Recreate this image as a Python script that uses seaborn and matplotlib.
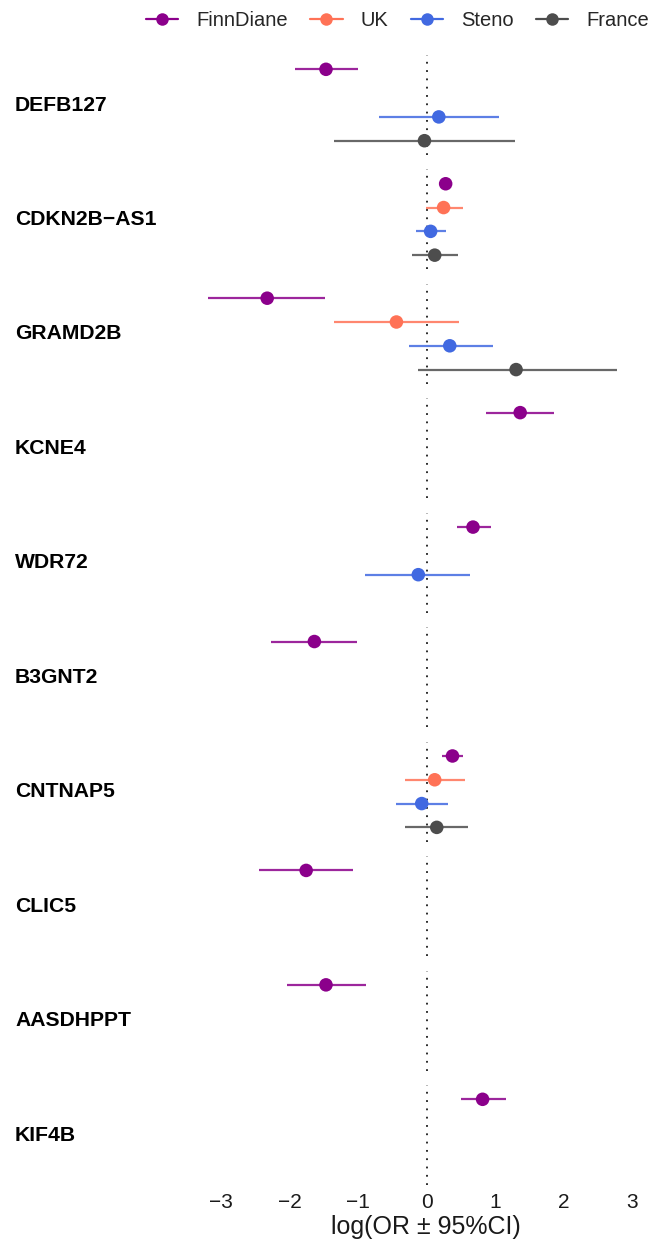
import numpy as np
import pandas as pd
import matplotlib
matplotlib.use("Agg")
import matplotlib.pyplot as plt
import matplotlib.transforms as mtransforms
from matplotlib.lines import Line2D
import seaborn as sns

genes = ["DEFB127", "CDKN2B\u2212AS1", "GRAMD2B", "KCNE4", "WDR72",
         "B3GNT2", "CNTNAP5", "CLIC5", "AASDHPPT", "KIF4B"]
cohorts = ["FinnDiane", "UK", "Steno", "France"]
colors = ["#8B008B", "#FF7256", "#4169E1", "#4D4D4D"]

nan = np.nan
finn_est = [-1.47, 0.28, -2.33, 1.37, 0.68, -1.64, 0.38, -1.76, -1.47, 0.82]
finn_lo = [-1.92, 0.24, -3.19, 0.87, 0.44, -2.28, 0.23, -2.45, -2.04, 0.50]
finn_hi = [-1.00, 0.33, -1.48, 1.86, 0.94, -1.01, 0.53, -1.07, -0.88, 1.16]

uk_est = [nan, 0.25, -0.44, nan, nan, nan, 0.12, nan, nan, nan]
uk_lo = [nan, -0.01, -1.35, nan, nan, nan, -0.32, nan, nan, nan]
uk_hi = [nan, 0.53, 0.48, nan, nan, nan, 0.56, nan, nan, nan]

steno_est = [0.18, 0.06, 0.34, nan, -0.12, nan, -0.07, nan, nan, nan]
steno_lo = [-0.70, -0.16, -0.26, nan, -0.90, nan, -0.44, nan, nan, nan]
steno_hi = [1.06, 0.28, 0.97, nan, 0.63, nan, 0.31, nan, nan, nan]

france_est = [-0.03, 0.12, 1.31, nan, nan, nan, 0.15, nan, nan, nan]
france_lo = [-1.35, -0.21, -0.12, nan, nan, nan, -0.31, nan, nan, nan]
france_hi = [1.29, 0.46, 2.78, nan, nan, nan, 0.60, nan, nan, nan]

ests = [finn_est, uk_est, steno_est, france_est]
los = [finn_lo, uk_lo, steno_lo, france_lo]
his = [finn_hi, uk_hi, steno_hi, france_hi]

rows = []
for c, e, l, h in zip(cohorts, ests, los, his):
    for g, ev, lv, hv in zip(genes, e, l, h):
        rows.append({"gene": g, "cohort": c, "est": ev, "lo": lv, "hi": hv})
df = pd.DataFrame(rows).dropna()
df["slot"] = df["cohort"].map({c: i for i, c in enumerate(cohorts)})
pal = dict(zip(cohorts, colors))

sns.set_style("white")
plt.rcParams["font.family"] = ["Liberation Sans", "DejaVu Sans"]

fig, axes = plt.subplots(len(genes), 1, figsize=(6.68, 12.48), dpi=100, sharex=True)
fig.subplots_adjust(left=0.2814, right=0.9536, top=0.9559, bottom=0.0505, hspace=0.145)

lo_all, hi_all = df["lo"].min(), df["hi"].max()
pad = (hi_all - lo_all) * 0.05

for ax, g in zip(axes, genes):
    sub = df[df["gene"] == g]
    ax.axvline(0, color="#1a1a1a", lw=1.3, ls=(0, (1, 3.6)), zorder=1)
    for _, r in sub.iterrows():
        ax.hlines(r["slot"], r["lo"], r["hi"], color=pal[r["cohort"]], lw=1.6, alpha=0.85, zorder=2)
    sns.scatterplot(data=sub, x="est", y="slot", hue="cohort", palette=pal, s=95,
                    edgecolor="none", legend=False, ax=ax, zorder=3)
    ax.set_ylim(3.6, -0.6)
    ax.set_xlim(lo_all - pad, hi_all + pad)
    ax.set_yticks([])
    ax.set_ylabel("")
    ax.set_xlabel("")
    sns.despine(ax=ax, left=True, bottom=True)
    trans = mtransforms.blended_transform_factory(fig.transFigure, ax.transAxes)
    ax.text(15 / 668, 0.5, g, transform=trans, ha="left", va="center",
            fontsize=15.2, fontweight="bold", color="black")
    ax.tick_params(axis="x", length=0)

axes[-1].set_xticks([-3, -2, -1, 0, 1, 2, 3])
axes[-1].set_xticklabels(["\u22123", "\u22122", "\u22121", "0", "1", "2", "3"])
axes[-1].tick_params(axis="x", labelsize=15, pad=6, colors="#1a1a1a", labelcolor="#1a1a1a")
axes[-1].set_xlabel("log(OR \u00b1 95%CI)", fontsize=18, color="#1a1a1a")
axes[-1].xaxis.set_label_coords(0.529, -0.30)

handles = [Line2D([0], [0], color=c, lw=1.6, marker="o", markersize=9, markeredgewidth=0)
           for c in colors]
fig.legend(handles, cohorts, loc="center", bbox_to_anchor=(0.595, 1 - 21 / 1248),
           ncol=4, frameon=False, fontsize=14.5, handlelength=1.6, handletextpad=0.9,
           columnspacing=1.1)

fig.savefig("out.png", dpi=100)
